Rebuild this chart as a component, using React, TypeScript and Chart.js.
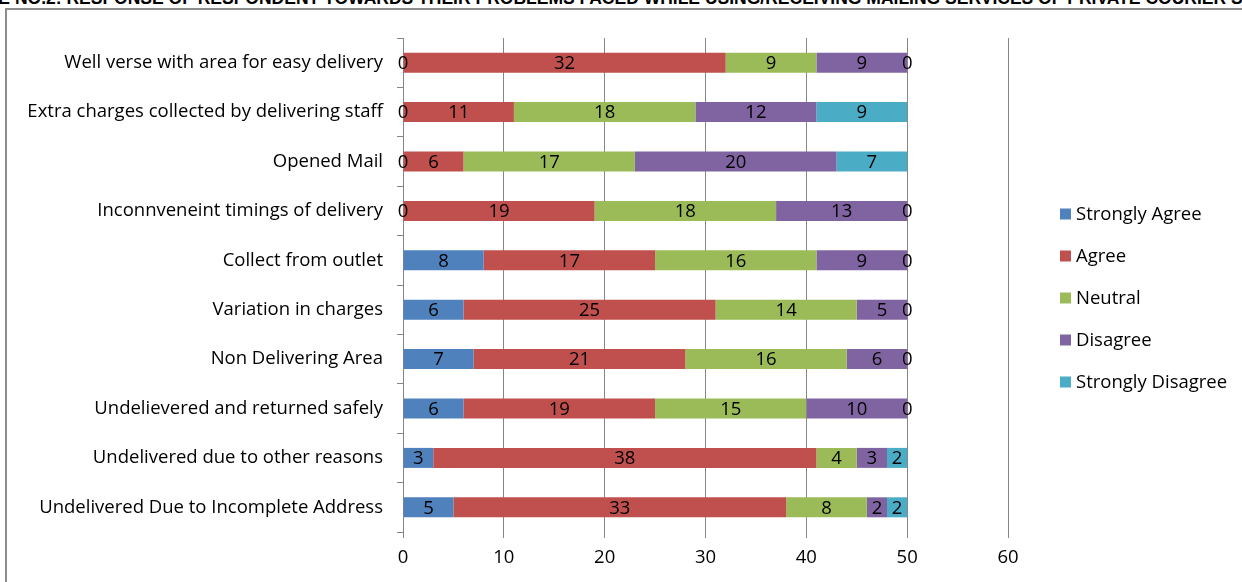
import React, { useEffect, useRef } from "react";
import { Chart, registerables } from "chart.js";

Chart.register(...registerables);

const categories = [
  "Well verse with area for easy delivery",
  "Extra charges collected by delivering staff",
  "Opened Mail",
  "Inconnveneint timings of delivery",
  "Collect from outlet",
  "Variation in charges",
  "Non Delivering Area",
  "Undelievered and returned safely",
  "Undelivered due to other reasons",
  "Undelivered Due to Incomplete Address",
];

const stronglyAgree = [0, 0, 0, 0, 8, 6, 7, 6, 3, 5];
const agree = [32, 11, 6, 19, 17, 25, 21, 19, 38, 33];
const neutral = [9, 18, 17, 18, 16, 14, 16, 15, 4, 8];
const disagree = [9, 12, 20, 13, 9, 5, 6, 10, 3, 2];
const stronglyDisagree = [0, 9, 7, 0, 0, 0, 0, 0, 2, 2];

const seriesNames = ["Strongly Agree", "Agree", "Neutral", "Disagree", "Strongly Disagree"];
const seriesColors = ["#4F81BD", "#C0504D", "#9BBB59", "#8064A2", "#4BACC6"];

const xTicks = [0, 10, 20, 30, 40, 50, 60];

const TITLE =
  "TABLE NO.2: RESPONSE OF RESPONDENT TOWARDS THEIR PROBLEMS FACED WHILE USING/RECEIVING MAILING SERVICES OF PRIVATE COURIER SERVICES";

const FONT = "'Open Sans', Lato, sans-serif";
const FONT_SIZE = 18.5;

// Writes each segment's value in the middle of its bar
const valueLabels = {
  id: "valueLabels",
  afterDatasetsDraw(chart: any) {
    const ctx = chart.ctx;
    ctx.save();
    ctx.font = `${FONT_SIZE}px ${FONT}`;
    ctx.fillStyle = "#000";
    ctx.textAlign = "center";
    ctx.textBaseline = "middle";
    chart.data.datasets.forEach((ds: any, di: number) => {
      const meta = chart.getDatasetMeta(di);
      meta.data.forEach((bar: any, i: number) => {
        const cx = (bar.x + bar.base) / 2;
        ctx.fillText(String(ds.data[i]), cx, bar.y + 1);
      });
    });
    ctx.restore();
  },
};

// Vertical legend on the right side
const sideLegend = {
  id: "sideLegend",
  afterDraw(chart: any) {
    const ctx = chart.ctx;
    ctx.save();
    ctx.font = `${FONT_SIZE}px ${FONT}`;
    ctx.textBaseline = "middle";
    ctx.textAlign = "left";
    const x0 = 1060;
    const y0 = 214;
    const step = 42;
    chart.data.datasets.forEach((ds: any, i: number) => {
      const y = y0 + i * step;
      ctx.fillStyle = ds.backgroundColor;
      ctx.fillRect(x0, y - 5.5, 11, 11);
      ctx.fillStyle = "#000";
      ctx.fillText(ds.label, x0 + 16, y + 1);
    });
    ctx.restore();
  },
};

export default function App() {
  const ref = useRef<HTMLCanvasElement>(null);

  useEffect(() => {
    const prevMargin = document.body.style.margin;
    document.body.style.margin = "0";
    const values = [stronglyAgree, agree, neutral, disagree, stronglyDisagree];
    const chart = new Chart(ref.current!, {
      type: "bar",
      data: {
        labels: categories,
        datasets: values.map((d, i) => ({
          label: seriesNames[i],
          data: d,
          backgroundColor: seriesColors[i],
          borderWidth: 0,
          barPercentage: 0.405,
          categoryPercentage: 1,
        })),
      },
      options: {
        indexAxis: "y",
        responsive: false,
        animation: false,
        layout: { padding: { left: 0, right: 234, top: 38, bottom: 0 } },
        plugins: {
          legend: { display: false },
          tooltip: { enabled: false },
        },
        scales: {
          x: {
            stacked: true,
            min: 0,
            max: 60,
            afterBuildTicks(scale: any) {
              scale.ticks = xTicks.map((v) => ({ value: v }));
            },
            afterFit(scale: any) {
              scale.height = 50;
            },
            grid: {
              color: "#868686",
              lineWidth: 1,
              tickLength: 6,
              drawTicks: true,
            },
            border: { display: false },
            ticks: {
              color: "#000",
              font: { family: FONT, size: FONT_SIZE },
              padding: 9,
            },
          },
          y: {
            stacked: true,
            afterFit(scale: any) {
              scale.width = 403;
            },
            grid: {
              drawOnChartArea: false,
              drawTicks: true,
              tickLength: 6,
              color: "#868686",
              offset: true,
            },
            border: { display: true, color: "#868686", width: 1 },
            ticks: {
              color: "#000",
              font: { family: FONT, size: FONT_SIZE },
              padding: 14,
            },
          },
        },
      },
      plugins: [valueLabels, sideLegend],
    });
    return () => {
      chart.destroy();
      document.body.style.margin = prevMargin;
    };
  }, []);

  return (
    <div
      style={{
        position: "relative",
        width: 1242,
        height: 582,
        overflow: "hidden",
        background: "#fff",
      }}
    >
      <div
        style={{
          position: "absolute",
          left: -47,
          top: -12,
          whiteSpace: "nowrap",
          fontFamily: "'Liberation Sans', Arial, sans-serif",
          fontWeight: "bold",
          fontSize: 17.5,
          lineHeight: "20px",
          color: "#000",
        }}
      >
        {TITLE}
      </div>
      <div
        style={{
          position: "absolute",
          left: 5,
          top: 8,
          width: 1400,
          height: 700,
          border: "2px solid #8c8c8c",
          boxSizing: "border-box",
        }}
      />
      <canvas
        ref={ref}
        width={1242}
        height={582}
        style={{ position: "absolute", left: 0, top: 0 }}
      />
    </div>
  );
}
